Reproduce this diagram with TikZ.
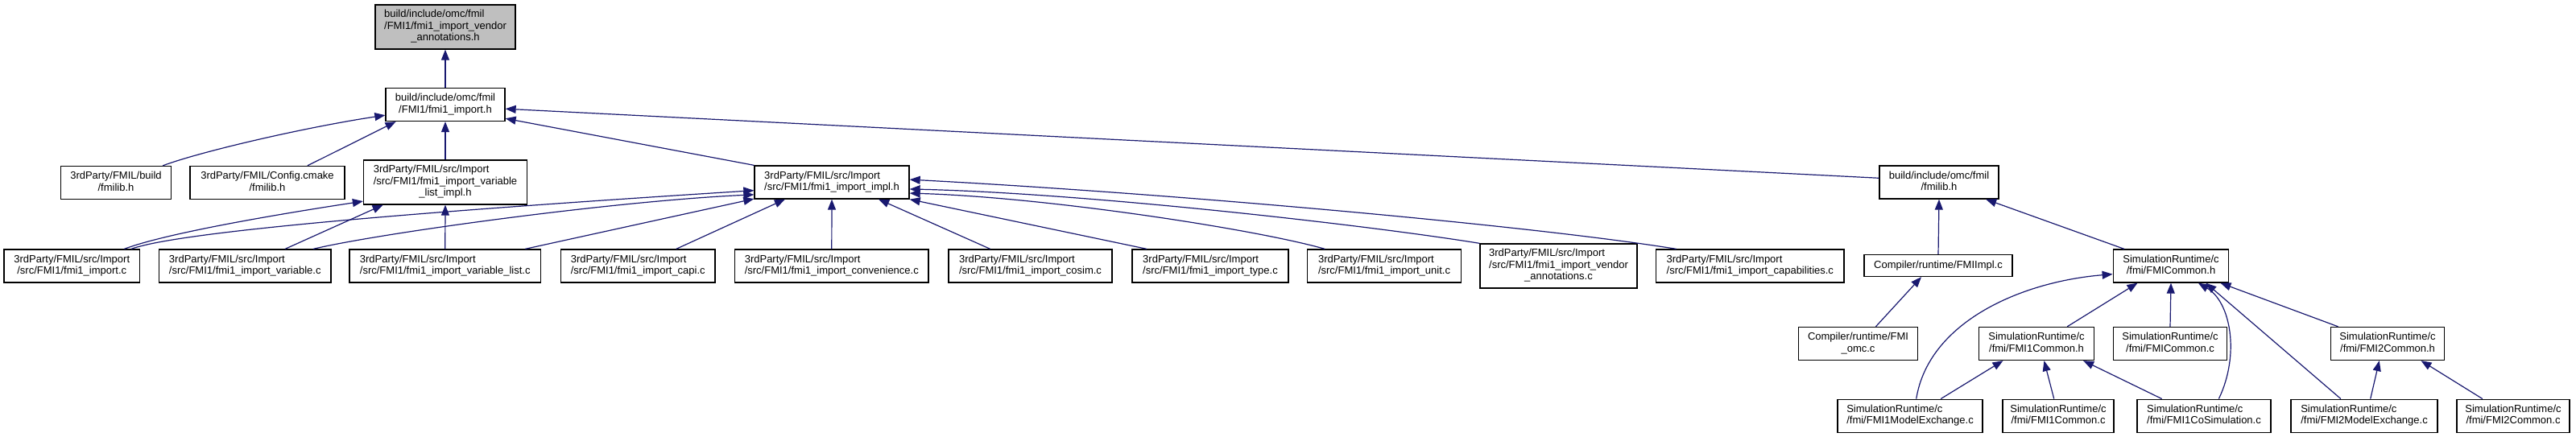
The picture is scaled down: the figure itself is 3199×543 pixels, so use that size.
\documentclass[tikz,border=0pt]{standalone}
\usepackage{fontspec}
\setmainfont{Liberation Sans}
\usepackage{tikz}
\usetikzlibrary{arrows.meta}
\definecolor{edgeblue}{HTML}{191970}
\definecolor{nodegray}{HTML}{BFBFBF}
% first line left, the others centred
\newcommand{\flbl}[2]{\begin{tabular}{@{}c@{}}\multicolumn{1}{@{}l@{}}{#1}\\#2\end{tabular}}
\tikzset{
    file/.style={draw=black,line width=1.3pt,fill=white,inner sep=0pt,font=\fontsize{13}{14.5}\selectfont},
    oneline/.style={file,minimum height=27pt},
    twoline/.style={file,minimum height=41pt},
    threeline/.style={file,minimum height=55pt},
    link/.style={-{Triangle[length=13pt,width=10pt]},draw=edgeblue,line width=1.2pt}
}

\begin{document}
\begin{tikzpicture}[x=1pt,y=-1pt]
    \useasboundingbox (0,0) rectangle (3199,543);
    \fill[white] (0,0) rectangle (3199,543);

    % header files
    \node[threeline,fill=nodegray,minimum width=174pt] (vendh) at (553,33.5) {\flbl{build/include/omc/fmil}{/FMI1/fmi1\_import\_vendor\\\_annotations.h}};
    \node[twoline,minimum width=148pt] (imph) at (553,130) {\flbl{build/include/omc/fmil}{/FMI1/fmi1\_import.h}};
    \node[twoline,minimum width=137pt] (bfml) at (144,227) {\flbl{3rdParty/FMIL/build}{/fmilib.h}};
    \node[twoline,minimum width=192pt] (cfml) at (332,227) {\flbl{3rdParty/FMIL/Config.cmake}{/fmilib.h}};
    \node[threeline,minimum width=203pt] (vlih) at (553,226.5) {\flbl{3rdParty/FMIL/src/Import}{/src/FMI1/fmi1\_import\_variable\\\_list\_impl.h}};
    \node[twoline,minimum width=192pt] (implh) at (1033,226.5) {\flbl{3rdParty/FMIL/src/Import}{/src/FMI1/fmi1\_import\_impl.h}};
    \node[twoline,minimum width=148pt] (fmilibh) at (2408,226.5) {\flbl{build/include/omc/fmil}{/fmilib.h}};

    % FMIL sources
    \node[twoline,minimum width=168.5pt] (impc) at (89.25,330.5) {\flbl{3rdParty/FMIL/src/Import}{/src/FMI1/fmi1\_import.c}};
    \node[twoline,minimum width=213.5pt] (varc) at (304.25,330.5) {\flbl{3rdParty/FMIL/src/Import}{/src/FMI1/fmi1\_import\_variable.c}};
    \node[twoline,minimum width=237.5pt] (vlc) at (552.75,330.5) {\flbl{3rdParty/FMIL/src/Import}{/src/FMI1/fmi1\_import\_variable\_list.c}};
    \node[twoline,minimum width=191.5pt] (capic) at (792.25,330.5) {\flbl{3rdParty/FMIL/src/Import}{/src/FMI1/fmi1\_import\_capi.c}};
    \node[twoline,minimum width=240.4pt] (convc) at (1032.8,330.5) {\flbl{3rdParty/FMIL/src/Import}{/src/FMI1/fmi1\_import\_convenience.c}};
    \node[twoline,minimum width=203pt] (cosimc) at (1279.5,330.5) {\flbl{3rdParty/FMIL/src/Import}{/src/FMI1/fmi1\_import\_cosim.c}};
    \node[twoline,minimum width=194pt] (typec) at (1503,330.5) {\flbl{3rdParty/FMIL/src/Import}{/src/FMI1/fmi1\_import\_type.c}};
    \node[twoline,minimum width=190.5pt] (unitc) at (1719,330.5) {\flbl{3rdParty/FMIL/src/Import}{/src/FMI1/fmi1\_import\_unit.c}};
    \node[threeline,minimum width=195pt] (vndc) at (1935.5,330.5) {\flbl{3rdParty/FMIL/src/Import}{/src/FMI1/fmi1\_import\_vendor\\\_annotations.c}};
    \node[twoline,minimum width=233.4pt] (capbc) at (2173.3,330.5) {\flbl{3rdParty/FMIL/src/Import}{/src/FMI1/fmi1\_import\_capabilities.c}};

    % runtime files
    \node[oneline,minimum width=184pt] (fimplc) at (2407,330) {Compiler/runtime/FMIImpl.c};
    \node[twoline,minimum width=143.5pt] (fcomh) at (2696,330.5) {\flbl{SimulationRuntime/c}{/fmi/FMICommon.h}};
    \node[twoline,minimum width=148pt] (omcc) at (2307.5,427) {\flbl{Compiler/runtime/FMI}{\_omc.c}};
    \node[twoline,minimum width=142.5pt] (f1comh) at (2529,427) {\flbl{SimulationRuntime/c}{/fmi/FMI1Common.h}};
    \node[twoline,minimum width=141.5pt] (fcomc) at (2695,427) {\flbl{SimulationRuntime/c}{/fmi/FMICommon.c}};
    \node[twoline,minimum width=141.6pt] (f2comh) at (2965,427) {\flbl{SimulationRuntime/c}{/fmi/FMI2Common.h}};
    \node[twoline,minimum width=180pt] (f1mec) at (2372,516.7) {\flbl{SimulationRuntime/c}{/fmi/FMI1ModelExchange.c}};
    \node[twoline,minimum width=138pt] (f1comc) at (2556,516.7) {\flbl{SimulationRuntime/c}{/fmi/FMI1Common.c}};
    \node[twoline,minimum width=166pt] (f1csc) at (2737,516.7) {\flbl{SimulationRuntime/c}{/fmi/FMI1CoSimulation.c}};
    \node[twoline,minimum width=182pt] (f2mec) at (2936,516.7) {\flbl{SimulationRuntime/c}{/fmi/FMI2ModelExchange.c}};
    \node[twoline,minimum width=140pt] (f2comc) at (3121,516.7) {\flbl{SimulationRuntime/c}{/fmi/FMI2Common.c}};

    % includers of fmi1_import.h
    \draw[link] (imph.north) -- (vendh.south);
    \draw[link] (bfml.20) .. controls (250,188) and (380,158) .. (imph.190);
    \draw[link] (cfml.23) -- (imph.199);
    \draw[link] (vlih.north) -- (imph.south);
    \draw[link] (implh.north west) -- (imph.347);
    \draw[link] (fmilibh.176) -- (imph.356);

    \draw[link] (impc.18) .. controls (200,292) and (320,270) .. (vlih.193);
    \draw[link] (varc.23) -- (vlih.200);
    \draw[link] (vlc.north) -- (vlih.south);

    % includers of fmi1_import_impl.h
    \draw[link] (impc.16) .. controls (230,285) and (600,258) .. (implh.186);
    \draw[link] (varc.14) .. controls (470,290) and (760,250) .. (implh.189);
    \draw[link] (vlc.12) -- (implh.192);
    \draw[link] (capic.24) -- (implh.200);
    \draw[link] (convc.north) -- (implh.south);
    \draw[link] (cosimc.157) -- (implh.340);
    \draw[link] (typec.165) -- (implh.south east);
    \draw[link] (unitc.164) .. controls (1560,285) and (1300,245) .. (implh.352);
    \draw[link] (vndc.north west) .. controls (1700,280) and (1350,240) .. (implh.355);
    \draw[link] (capbc.167) .. controls (1900,280) and (1450,240) .. (implh.2);

    % runtime side
    \draw[link] (fimplc.north) -- (fmilibh.south);
    \draw[link] (fcomh.160) -- (fmilibh.340);
    \draw[link] (omcc.44) -- (fimplc.214);
    \draw[link] (f1mec.70) .. controls (2395,400) and (2510,350) .. (fcomh.188);
    \draw[link] (f1comh.29) -- (fcomh.207);
    \draw[link] (fcomc.north) -- (fcomh.south);
    \draw[link] (f1csc.49) .. controls (2782,440) and (2770,375) .. (fcomh.328);
    \draw[link] (f2mec.144) -- (fcomh.334);
    \draw[link] (f2comh.161) -- (fcomh.341);
    \draw[link] (f1mec.29) -- (f1comh.207);
    \draw[link] (f1comc.104) -- (f1comh.294);
    \draw[link] (f1csc.158) -- (f1comh.340);
    \draw[link] (f2mec.70) -- (f2comh.244);
    \draw[link] (f2comc.151) -- (f2comh.333);
\end{tikzpicture}
\end{document}
